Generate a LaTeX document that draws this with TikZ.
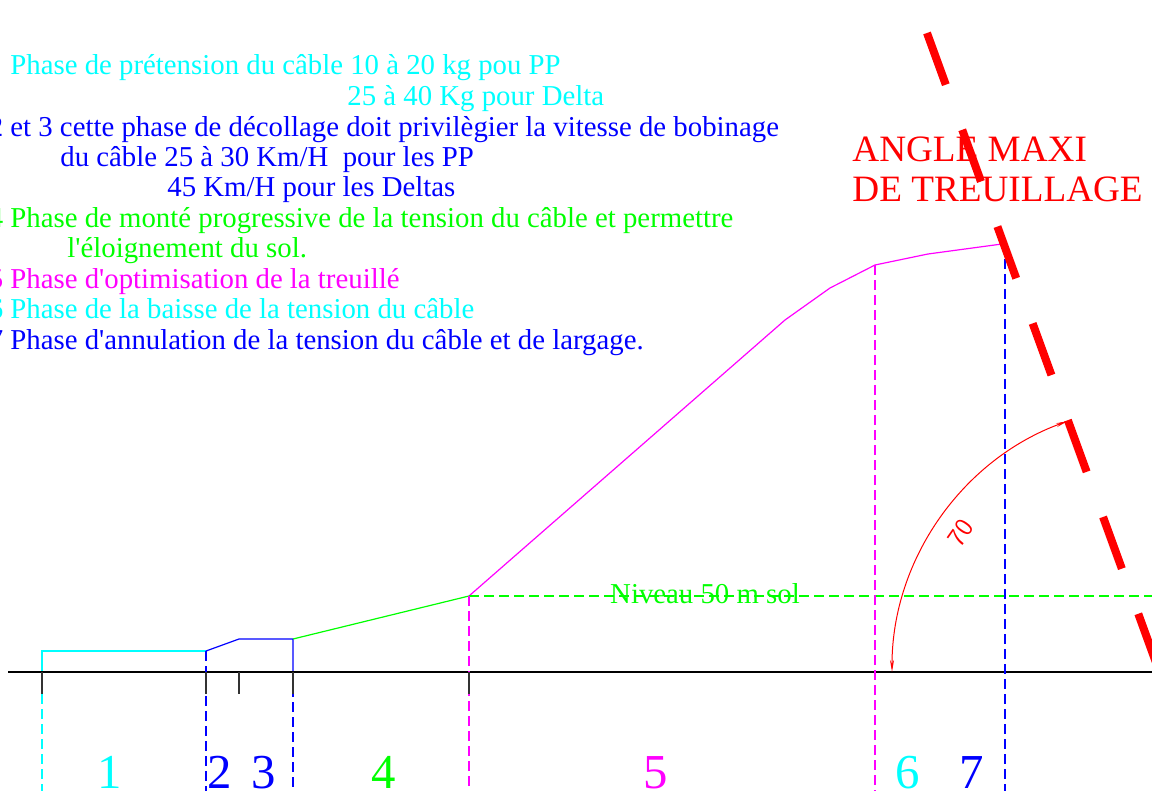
\documentclass[tikz,border=0pt]{standalone}
\usepackage{fontspec}
\setmainfont{Liberation Serif}
\usetikzlibrary{arrows.meta}
\definecolor{phcyan}{RGB}{0,255,255}
\definecolor{phblue}{RGB}{0,0,255}
\definecolor{phgreen}{RGB}{0,255,0}
\definecolor{phmagenta}{RGB}{255,0,255}
\definecolor{phred}{RGB}{255,0,0}
\newcommand\legendsize{\fontsize{14.4pt}{17pt}\selectfont}
\newcommand\anglesize{\fontsize{18.6pt}{21pt}\selectfont}
\newcommand\phasesize{\fontsize{24.4pt}{28pt}\selectfont}
\newcommand\apos{\textquotesingle}
\begin{document}
\begin{tikzpicture}[x=0.5pt, y=-0.5pt,
    legend/.style={anchor=base west, inner sep=0pt, font=\legendsize},
    phasenum/.style={anchor=base, inner sep=0pt, font=\phasesize},
    limitline/.style={dash pattern=on 5pt off 2.5pt, line width=0.6pt},
    groundtick/.style={draw=black!80, line width=0.6pt}]
  \useasboundingbox (0,0) rectangle (1152,791);
  \clip (0,0) rectangle (1152,791);
  % legend
  \node[legend, text=phcyan] (l1) at (10,75) {Phase de prétension du câble 10 à 20 kg pou PP};
  \node[legend, text=phcyan] (l2) at (347,106) {25 à 40 Kg pour Delta};
  \node[legend, text=phblue] (l3) at (-11.6,136.5) {2 et 3 cette phase de décollage doit privilègier la vitesse de bobinage};
  \node[legend, text=phblue] (l4) at (60,167) {du câble 25 à 30 Km/H\ \ pour les PP};
  \node[legend, text=phblue] (l5) at (167,197) {45 Km/H pour les Deltas};
  \node[legend, text=phgreen] (l6) at (-11.6,227.5) {4 Phase de monté progressive de la tension du câble et permettre};
  \node[legend, text=phgreen] (l7) at (67,258) {l\apos éloignement du sol.};
  \node[legend, text=phmagenta] (l8) at (-11.6,288.5) {5 Phase d\apos optimisation de la treuillé};
  \node[legend, text=phcyan] (l9) at (-11.6,319) {6 Phase de la baisse de la tension du câble};
  \node[legend, text=phblue] (l10) at (-11.6,349.5) {7 Phase d\apos annulation de la tension du câble et de largage.};
  % profile
  \coordinate (p0) at (42,672);
  \coordinate (p1) at (42,651);
  \coordinate (p2) at (206,651);
  \coordinate (p3) at (239,639);
  \coordinate (p4) at (293,639);
  \coordinate (p5) at (469,596);
  \coordinate (p6) at (785,320);
  \coordinate (p7) at (830,288);
  \coordinate (p8) at (875,265);
  \coordinate (p9) at (928,254);
  \coordinate (p10) at (1002,244);
  \draw[phcyan, line width=0.6pt] (p0) -- (p1) -- (p2);
  \draw[phblue, line width=0.6pt] (p2) -- (p3) -- (p4) -- (293,672);
  \draw[phgreen, line width=0.6pt] (p4) -- (p5);
  \draw[phmagenta, line width=0.6pt] (p5) -- (p6) -- (p7) -- (p8) -- (p9) -- (p10);
  % 50 m level
  \draw[phgreen, limitline] (p5) -- (1152,596);
  \node[anchor=base, inner sep=0pt, font=\legendsize, text=phgreen] (niveau) at (705,603) {Niveau 50 m sol};
  % ground
  \draw[black, line width=0.7pt] (8,672) -- (1152,672);
  % phase limits
  \draw[phcyan, limitline] (42,694) -- (42,791);
  \draw[phblue, limitline] (p2) -- (206,791);
  \draw[phblue, limitline] (293,672) -- (293,791);
  \draw[phmagenta, limitline] (p5) -- (469,791);
  \draw[phmagenta, limitline] (p8) -- (875,791);
  \draw[phblue, limitline] (1005,244) -- (1005,791);
  \draw[groundtick] (42,672) -- (42,694);
  \draw[groundtick] (206,672) -- (206,694);
  \draw[groundtick] (239,672) -- (239,694);
  \draw[groundtick] (293,672) -- (293,694);
  \draw[groundtick] (469,672) -- (469,694);
  % phase numbers
  \node[phasenum, text=phcyan] (n1) at (110,788) {1};
  \node[phasenum, text=phblue] (n2) at (220,788) {2};
  \node[phasenum, text=phblue] (n3) at (264,788) {3};
  \node[phasenum, text=phgreen] (n4) at (384,788) {4};
  \node[phasenum, text=phmagenta] (n5) at (656,788) {5};
  \node[phasenum, text=phcyan] (n6) at (908,788) {6};
  \node[phasenum, text=phblue] (n7) at (972,788) {7};
  % max angle
  \node[anchor=base west, inner sep=0pt, font=\anglesize, text=phred] (angle1) at (852,162) {ANGLE MAXI};
  \node[anchor=base west, inner sep=0pt, font=\anglesize, text=phred] (angle2) at (852,202) {DE TREUILLAGE};
  \coordinate (ctr) at (1159,672);
  \draw[phred, line width=4pt, dash pattern=on 27.5pt off 24pt] (927,33) -- (1206,800);
  \draw[phred, line width=0.5pt, {Stealth[length=6pt,width=2pt]}-{Stealth[length=6pt,width=2pt]}]
    (892,672) arc[start angle=180, end angle=250, radius=267];
  \node[phred, rotate=55, inner sep=0pt, font=\sffamily\fontsize{13pt}{13pt}\selectfont] (deg) at (961,533) {70};
\end{tikzpicture}
\end{document}
